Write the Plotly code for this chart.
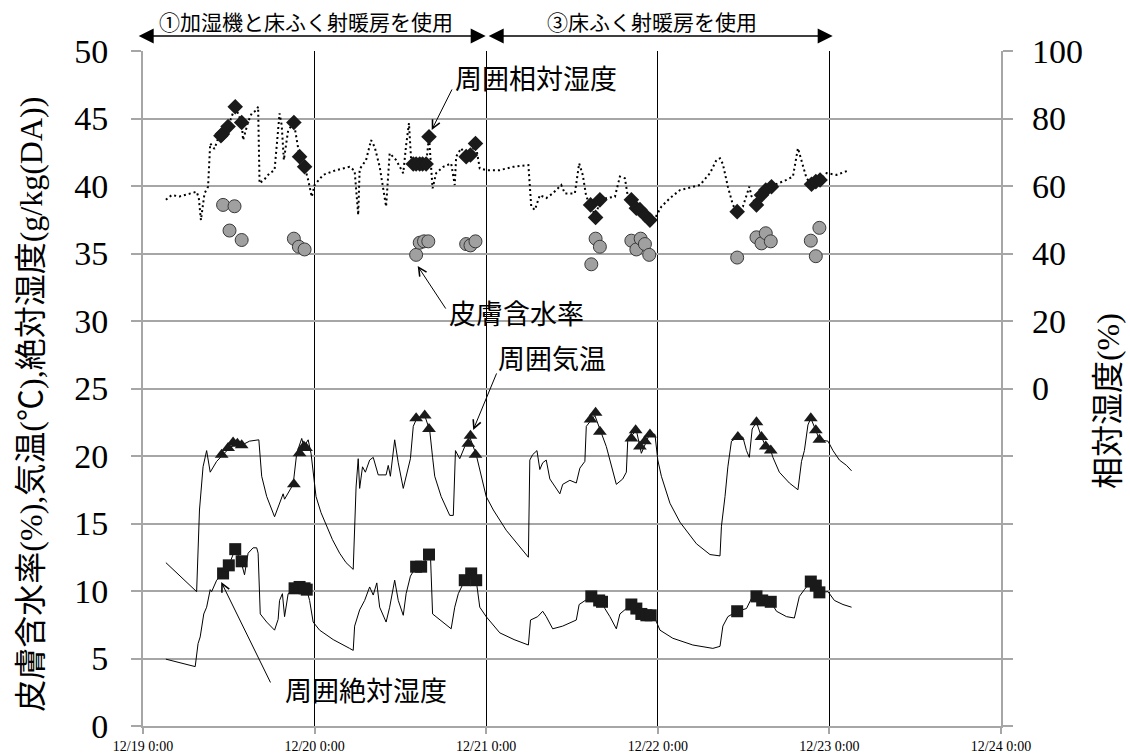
import pandas as pd
import plotly.graph_objects as go

START = pd.Timestamp("2011-12-19 00:00")

# ---- data (hours since 12/19 0:00, value) ----
temp_line = [(3.2,12.1),(7.5,9.95),(7.9,16.0),(8.4,19.2),(8.9,20.4),(9.1,19.8),(9.4,18.8),(10.3,19.6),
 (11.2,20.1),(12.1,20.6),(13.0,20.9),(13.8,20.8),(14.9,21.1),(15.9,21.2),(16.2,21.2),(16.6,18.5),
 (17.3,17.0),(18.4,15.5),(19.1,16.5),(19.6,17.2),(19.8,16.8),(21.0,17.9),(21.5,20.2),(22.2,21.3),
 (22.5,20.7),(23.1,21.2),(23.5,20.2),(24.2,17.0),(24.9,15.8),(25.7,14.8),(26.5,13.8),(27.5,12.8),
 (28.4,12.1),(29.4,11.6),(29.8,17.7),(30.1,19.8),(30.3,17.6),(30.7,19.2),(31.1,18.8),(31.7,19.7),
 (32.2,19.9),(32.9,18.6),(34.0,18.6),(34.3,19.3),(34.6,18.5),(35.2,21.2),(35.7,19.5),(36.4,17.6),
 (36.8,18.5),(37.4,19.8),(37.8,22.2),(38.3,22.8),(39.4,23.0),(40.1,21.9),(40.5,19.9),(40.8,18.5),
 (41.7,17.0),(42.9,15.6),(43.4,15.6),(43.7,20.4),(44.3,19.8),(45.0,20.7),(45.7,21.4),(46.6,20.1),
 (48.0,17.0),(49.0,16.0),(50.8,14.5),(52.7,13.3),(53.9,12.5),(54.1,19.7),(54.5,20.1),(55.1,20.4),
 (55.5,19.0),(55.9,19.5),(56.4,19.7),(56.9,18.3),(58.3,17.2),(58.7,17.9),(59.7,18.2),(60.6,18.0),
 (61.1,19.1),(61.8,19.6),(62.0,22.2),(63.2,23.0),(64.3,21.4),(64.8,20.7),(66.2,17.9),(67.1,18.3),
 (67.6,18.8),(67.8,21.2),(69.0,21.9),(69.7,20.2),(70.9,21.7),(71.6,21.6),(72.0,19.7),(72.5,18.5),
 (73.7,16.5),(75.1,15.1),(77.4,13.5),(79.3,12.7),(80.7,12.6),(80.9,14.8),(81.4,17.0),(81.8,19.2),
 (82.3,21.1),(83.2,21.4),(83.9,21.4),(84.4,20.4),(84.8,19.9),(85.2,22.0),(85.8,22.5),(86.5,21.4),
 (87.1,20.7),(87.8,20.4),(88.1,19.9),(89.0,18.8),(90.4,18.0),(91.6,17.5),(92.1,19.6),(92.5,20.4),
 (93.0,22.3),(93.4,22.8),(94.1,21.9),(94.6,21.2),(95.8,21.1),(96.5,20.4),(97.4,19.7),(98.4,19.3),
 (99.1,18.9)]

temp_marks = [(11.0,20.1),(11.9,20.6),(12.6,21.0),(13.2,20.9),(13.8,20.8),(21.1,17.9),(21.9,20.2),
 (22.5,20.7),(22.8,20.6),(38.2,22.8),(39.4,23.0),(40.0,22.0),(45.5,20.9),(45.8,21.5),(46.5,20.1),
 (62.6,22.7),(63.3,23.2),(63.9,21.8),(68.3,21.3),(68.9,21.9),(69.5,20.7),(70.2,21.1),(70.9,21.6),
 (83.2,21.4),(85.8,22.5),(86.5,21.4),(87.1,20.7),(87.8,20.4),(93.4,22.8),(94.1,21.9),(94.6,21.2)]

abs_line = [(3.2,4.95),(7.3,4.4),(7.7,6.1),(8.0,6.6),(8.5,8.3),(8.9,8.8),(9.4,10.1),(9.6,9.95),
 (10.3,10.8),(11.2,11.3),(12.0,11.9),(12.9,13.1),(13.7,12.2),(14.2,11.2),(14.7,12.8),(15.4,13.2),
 (15.9,13.2),(16.1,12.8),(16.4,8.3),(17.3,7.7),(18.4,7.1),(18.9,7.9),(19.1,9.3),(19.5,9.8),(19.8,8.1),
 (20.3,9.8),(21.2,10.2),(21.9,10.3),(22.6,10.2),(22.9,10.1),(23.3,9.3),(23.8,7.7),(24.7,7.1),
 (26.6,6.4),(28.9,5.75),(29.4,5.6),(29.6,7.4),(30.3,8.6),(31.0,9.3),(31.7,10.3),(32.2,9.7),
 (32.7,10.6),(33.1,8.8),(34.0,7.7),(34.5,8.8),(35.2,10.8),(35.7,9.3),(36.4,8.2),(36.8,9.8),
 (37.4,11.1),(38.2,11.8),(38.9,11.8),(40.0,12.7),(40.2,12.7),(40.5,8.3),(41.5,7.85),(43.1,7.2),
 (43.6,8.8),(44.1,9.8),(45.0,10.8),(45.9,11.3),(46.6,10.8),(47.1,8.8),(48.0,8.1),(49.9,6.9),
 (51.9,6.4),(53.9,6.0),(54.2,7.85),(55.2,8.1),(55.9,8.5),(56.4,8.1),(57.3,7.2),(58.7,7.4),
 (60.6,7.85),(61.0,9.0),(62.7,9.6),(63.8,9.3),(64.2,9.2),(64.6,8.7),(65.3,8.1),(66.2,7.2),
 (66.7,8.3),(67.6,8.7),(68.3,9.0),(69.0,8.7),(69.7,8.3),(70.4,8.2),(71.0,8.2),(71.7,7.85),
 (72.3,7.1),(74.1,6.5),(76.9,6.0),(79.7,5.75),(80.7,5.9),(81.1,7.4),(81.8,8.1),(83.1,8.5),
 (84.4,8.7),(85.1,9.45),(85.8,9.6),(86.6,9.3),(87.8,9.2),(88.6,8.5),(90.0,8.1),(91.1,8.0),
 (91.8,9.6),(92.5,10.1),(93.4,10.7),(94.1,10.4),(94.6,9.9),(95.8,9.95),(96.7,9.3),(97.9,9.0),
 (99.1,8.8)]

abs_marks = [(11.2,11.3),(12.0,11.9),(12.9,13.1),(13.8,12.2),(21.2,10.2),(21.9,10.3),(22.6,10.2),
 (22.9,10.1),(38.2,11.8),(38.9,11.8),(40.0,12.7),(45.0,10.8),(45.9,11.3),(46.6,10.8),(62.7,9.6),
 (63.8,9.3),(64.2,9.2),(68.3,9.0),(69.0,8.7),(69.7,8.3),(70.4,8.2),(71.0,8.2),(83.1,8.5),
 (85.8,9.6),(86.6,9.3),(87.8,9.2),(93.4,10.7),(94.1,10.4),(94.6,9.9)]

rh_line = [(3.2,55.9),(4.0,57.3),(5.1,56.9),(6.5,57.8),(7.5,58.3),(7.8,56.5),(8.1,49.9),(8.6,57.8),
 (9.1,59.8),(9.4,72.6),(10.0,71.0),(10.5,74.1),(11.1,75.4),(11.9,77.6),(12.9,83.5),(13.8,78.8),
 (14.0,73.6),(14.7,79.0),(15.2,81.5),(15.9,82.5),(16.1,83.5),(16.3,60.8),(17.0,62.0),(17.7,63.8),
 (18.4,64.7),(19.1,81.5),(19.4,78.0),(19.7,67.7),(20.1,74.0),(20.3,76.5),(21.1,78.8),(21.9,68.7),
 (22.6,65.7),(23.1,61.8),(23.6,56.8),(24.0,60.3),(25.2,63.3),(27.0,64.7),(28.9,65.7),(29.6,64.5),
 (30.1,51.4),(30.3,65.0),(31.2,67.7),(31.9,73.6),(32.4,71.6),(33.1,65.7),(34.0,53.9),(34.5,69.7),
 (35.4,67.7),(36.4,63.8),(36.8,72.1),(37.2,78.6),(37.5,67.7),(37.8,66.5),(39.6,66.5),(40.0,74.6),
 (40.5,59.3),(41.0,63.8),(42.0,65.7),(43.1,66.7),(43.6,60.3),(43.8,68.7),(44.5,71.2),(45.2,68.7),
 (45.8,69.2),(46.5,72.6),(47.1,65.2),(48.0,64.7),(49.9,64.7),(51.8,65.7),(53.9,66.2),(54.3,53.9),
 (54.8,52.9),(55.5,57.3),(56.4,56.4),(57.3,57.8),(58.5,60.3),(59.0,57.8),(60.4,57.8),(61.0,66.7),
 (61.5,63.3),(62.0,56.8),(62.6,54.4),(63.3,50.7),(63.9,55.9),(64.8,56.4),(66.0,56.8),(66.7,62.8),
 (67.4,62.3),(67.8,57.0),(68.3,55.9),(69.0,53.4),(69.6,53.0),(70.2,51.4),(70.9,49.9),(71.6,50.4),
 (72.5,53.9),(73.7,56.4),(75.1,58.8),(76.9,59.8),(77.9,60.3),(79.3,63.8),(80.2,67.7),(80.7,68.2),
 (81.1,66.5),(81.8,59.8),(82.5,54.4),(83.1,52.4),(83.9,53.9),(84.8,59.8),(85.1,57.0),(85.8,54.4),
 (86.5,57.3),(87.1,58.8),(87.9,59.8),(88.6,60.6),(90.0,61.8),(90.9,62.8),(91.6,71.2),(92.1,67.2),
 (92.8,62.3),(93.5,60.5),(94.1,61.3),(94.7,61.8),(95.6,63.8),(97.0,63.3),(98.8,64.7)]

rh_marks = [(10.9,74.9),(11.1,75.4),(11.9,77.6),(12.9,83.5),(13.8,78.8),(21.1,78.8),(21.9,68.7),
 (22.6,65.7),(37.8,66.5),(38.2,66.5),(38.7,66.5),(39.1,66.5),(39.6,66.5),(40.0,74.6),(45.2,68.7),
 (45.8,69.2),(46.5,72.6),(62.6,54.4),(63.3,50.7),(63.9,55.9),(68.3,55.9),(69.0,53.4),(69.5,53.0),
 (70.2,51.4),(70.9,49.9),(83.1,52.4),(85.8,54.4),(86.5,57.3),(87.1,58.8),(87.9,59.8),(93.5,60.5),
 (94.1,61.3),(94.7,61.8)]

skin = [(11.2,38.6),(12.1,36.7),(12.8,38.5),(13.8,36.0),(21.1,36.1),(21.8,35.5),(22.6,35.3),
 (38.2,34.9),(38.7,35.8),(39.3,35.9),(39.9,35.9),(45.2,35.7),(45.8,35.6),(46.5,35.9),(62.7,34.2),
 (63.3,36.1),(63.9,35.5),(68.3,35.95),(69.0,35.3),(69.6,36.1),(70.2,35.7),(70.8,34.9),(83.1,34.7),
 (85.8,36.2),(86.5,35.75),(87.1,36.5),(87.8,35.9),(93.4,35.95),(94.1,34.8),(94.6,36.9)]

day_ticks_h = [0, 24, 48, 72, 96, 120]
day_tick_text = ["12/19 0:00", "12/20 0:00", "12/21 0:00", "12/22 0:00", "12/23 0:00", "12/24 0:00"]
left_ticks = [0, 5, 10, 15, 20, 25, 30, 35, 40, 45, 50]
right_ticks = [0, 20, 40, 60, 80, 100]


def T(hours):
    return [START + pd.Timedelta(hours=h) for h in hours]


def split(pairs):
    return T([p[0] for p in pairs]), [p[1] for p in pairs]


SERIF = "Liberation Serif, Noto Sans CJK JP"
SANS = "Noto Sans CJK JP, Noto Sans"
GRID = "#a6a6a6"

fig = go.Figure()

x, y = split(rh_line)
fig.add_trace(go.Scatter(x=x, y=y, yaxis="y2", mode="lines",
                         line=dict(color="black", width=2, dash="2px,3px")))
x, y = split(rh_marks)
fig.add_trace(go.Scatter(x=x, y=y, yaxis="y2", mode="markers",
                         marker=dict(symbol="diamond", size=12, color="#1a1a1a")))
x, y = split(skin)
fig.add_trace(go.Scatter(x=x, y=y, mode="markers",
                         marker=dict(symbol="circle", size=13, color="#a0a0a0",
                                     line=dict(color="#3a3a3a", width=1))))
x, y = split(temp_line)
fig.add_trace(go.Scatter(x=x, y=y, mode="lines", line=dict(color="black", width=1)))
x, y = split(temp_marks)
fig.add_trace(go.Scatter(x=x, y=y, mode="markers",
                         marker=dict(symbol="triangle-up", size=12, color="#1a1a1a")))
x, y = split(abs_line)
fig.add_trace(go.Scatter(x=x, y=y, mode="lines", line=dict(color="black", width=1)))
x, y = split(abs_marks)
fig.add_trace(go.Scatter(x=x, y=y, mode="markers",
                         marker=dict(symbol="square", size=12, color="#1a1a1a")))

ann = []


def label(h, v, text, size=27, family=SANS, yref="y"):
    ann.append(dict(x=T([h])[0], y=v, xref="x", yref=yref, text=text, showarrow=False,
                    font=dict(family=family, size=size, color="black"),
                    xanchor="center", yanchor="middle"))


def pointer(h, v, dx, dy):
    ann.append(dict(x=T([h])[0], y=v, xref="x", yref="y", text="", showarrow=True,
                    ax=dx, ay=dy, arrowhead=5, arrowsize=1.6, arrowwidth=1,
                    arrowcolor="black"))


label(54.9, 48.07, "周囲相対湿度")
pointer(40.38, 44.15, 21, -42)
label(52.3, 30.6, "皮膚含水率")
pointer(38.42, 34.07, 29, 44)
label(57.2, 27.26, "周囲気温")
pointer(46.18, 21.93, 24, -58)
label(31.2, 2.74, "周囲絶対湿度")
pointer(10.94, 10.67, 50, 102)

# period arrows at top (paper y above the plot)
for h0, h1 in [(-0.81, 47.93), (48.14, 96.46)]:
    ann.append(dict(x=T([h1])[0], y=1.0222, xref="x", yref="paper", axref="x", ayref="pixel",
                    ax=T([h0])[0], ay=0, text="", showarrow=True,
                    arrowhead=2, arrowside="end+start", arrowsize=2, arrowwidth=1.5,
                    arrowcolor="black"))
label(22.8, 1.045, "①加湿機と床ふく射暖房を使用", size=21, yref="paper")
label(71.2, 1.045, "③床ふく射暖房を使用", size=21, yref="paper")

# axis titles
ann.append(dict(x=-0.131, y=0.477, xref="paper", yref="paper", showarrow=False,
                text="皮膚含水率(%),気温(℃),絶対湿度(g/kg(DA))", textangle=-90,
                font=dict(family=SERIF, size=32, color="black"),
                xanchor="center", yanchor="middle"))
ann.append(dict(x=1.1248, y=0.4815, xref="paper", yref="paper", showarrow=False,
                text="相対湿度(%)", textangle=-90,
                font=dict(family=SERIF, size=32, color="black"),
                xanchor="center", yanchor="middle"))

fig.update_layout(
    width=1130, height=753, autosize=False,
    margin=dict(l=143, r=129, t=51, b=27, pad=0),
    plot_bgcolor="white", paper_bgcolor="white",
    showlegend=False,
    annotations=ann,
    xaxis=dict(type="date", range=[START, START + pd.Timedelta(hours=120)],
               tickvals=T(day_ticks_h), ticktext=day_tick_text,
               tickfont=dict(family=SERIF, size=14, color="black"),
               showgrid=True, gridcolor="black", gridwidth=1,
               showline=True, linecolor=GRID, linewidth=2,
               ticks="outside", ticklen=6, tickcolor=GRID, tickwidth=1.5,
               zeroline=False, automargin=False),
    yaxis=dict(range=[0, 50], tickvals=left_ticks,
               tickfont=dict(family=SERIF, size=34, color="black"),
               showgrid=True, gridcolor=GRID, gridwidth=1.5,
               showline=True, linecolor=GRID, linewidth=2, mirror="ticks",
               ticks="outside", ticklen=10, tickcolor=GRID, tickwidth=1.5,
               ticklabelstandoff=16, zeroline=False, automargin=False),
    yaxis2=dict(range=[-100, 100], tickvals=right_ticks, overlaying="y", side="right",
                tickfont=dict(family=SERIF, size=34, color="black"),
                showgrid=False, showline=False, ticks="", zeroline=False,
                ticklabelstandoff=30, automargin=False),
)

fig.write_html("out.html", config={"displayModeBar": False},
               post_script="document.body.style.margin='0px';"
                           "document.body.style.overflow='hidden';")
